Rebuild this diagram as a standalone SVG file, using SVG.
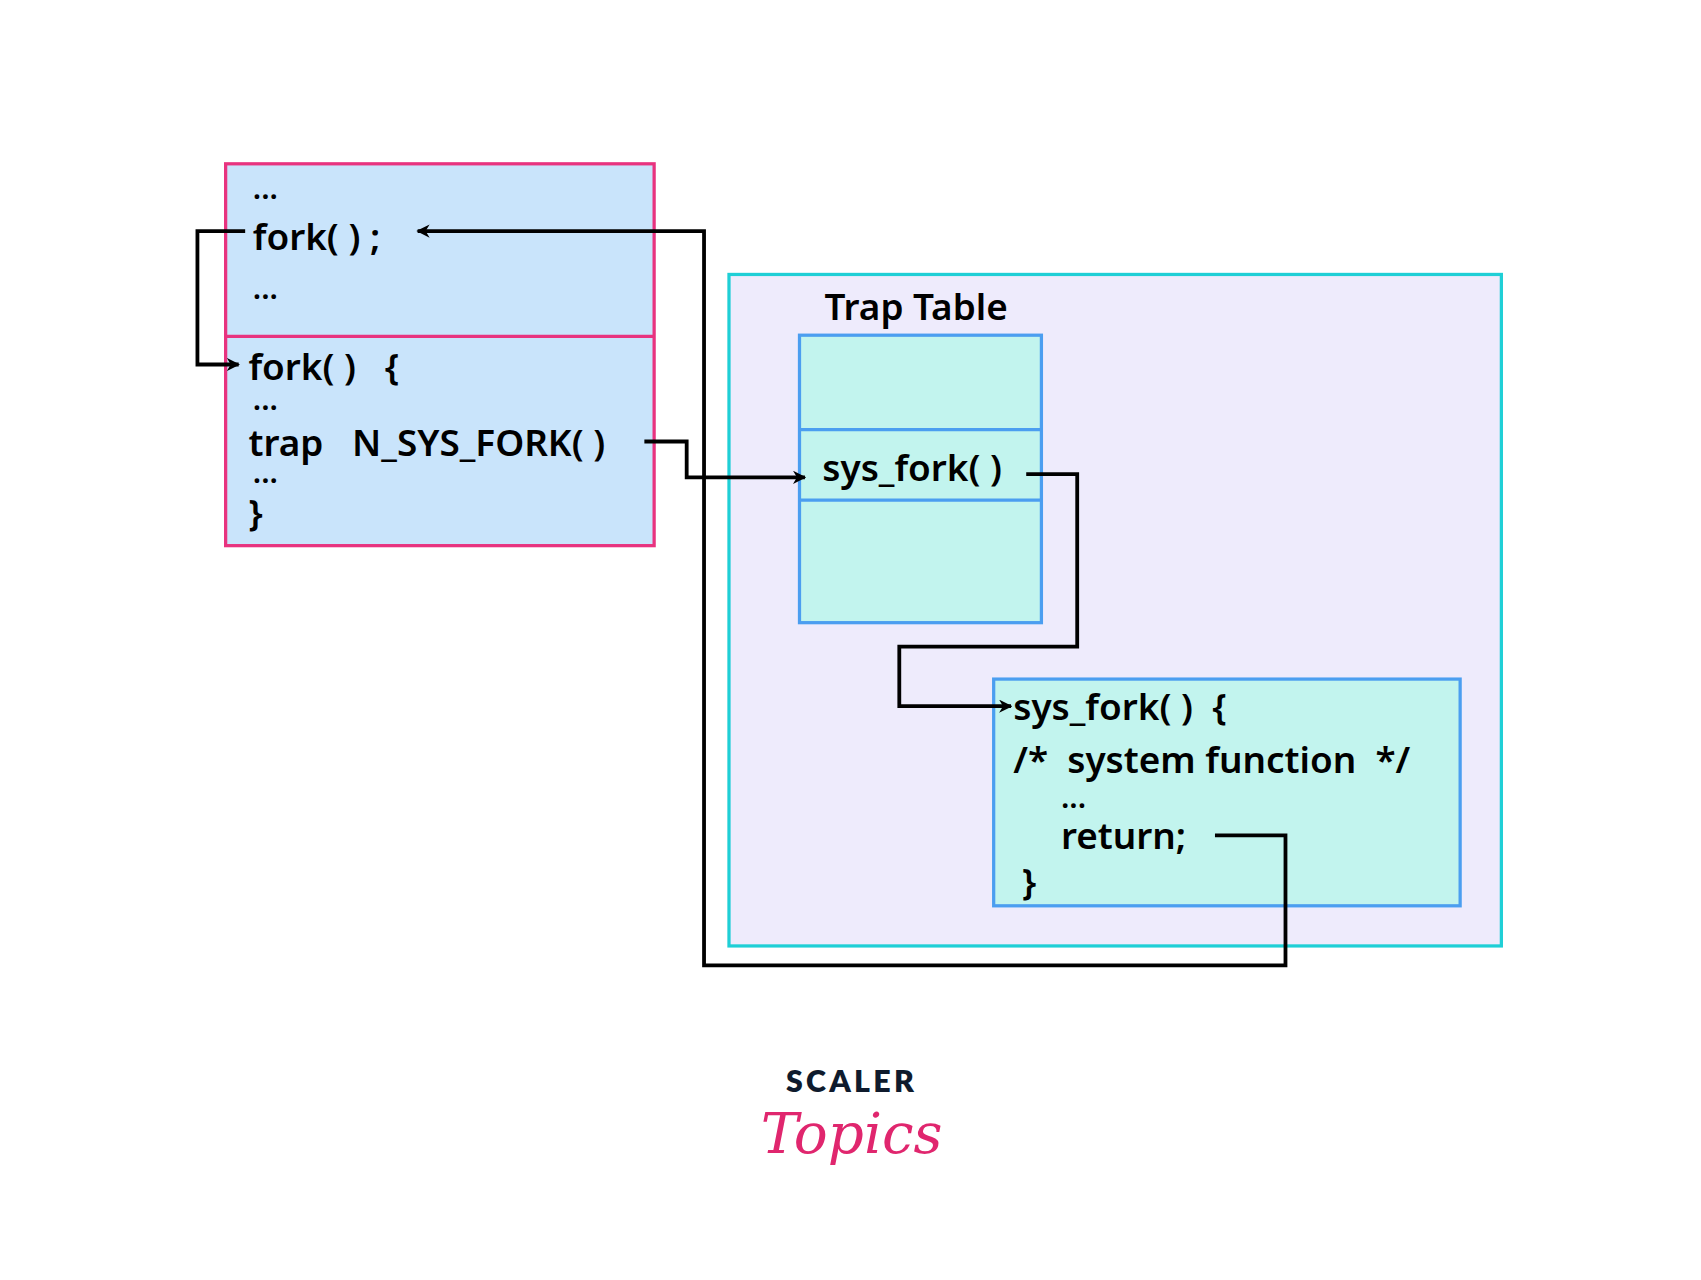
<svg xmlns="http://www.w3.org/2000/svg" width="1701" height="1280" viewBox="0 0 1701 1280">
<style>
.t{font-family:"Noto Sans","Open Sans",sans-serif;font-weight:600;font-size:34px;fill:#000}
.d{font-size:28px}
.c{fill:none;stroke:#000;stroke-width:3.5}
</style>
<defs><marker id="a" viewBox="0 0 10 10" refX="9" refY="5" markerWidth="3.5" markerHeight="3.5" orient="auto"><path d="M0,0L10,5L0,10L3,5z" fill="#000"/></marker></defs>
<rect width="1701" height="1280" fill="#fff"/>
<g transform="scale(1.0848)">
<g id="caller">
<rect x="208" y="151" width="395" height="352" fill="#c9e4fb" stroke="#e8337f" stroke-width="3"/>
<line x1="208" y1="310" x2="603" y2="310" stroke="#e8337f" stroke-width="3"/>
<text class="t d" x="233" y="183">...</text>
<text class="t" x="233" y="230">fork( ) ;</text>
<text class="t d" x="233" y="276">...</text>
<text class="t" x="229" y="350" xml:space="preserve">fork( )   {</text>
<text class="t d" x="233" y="378">...</text>
<text class="t" x="229" y="420" xml:space="preserve">trap   N_SYS_FORK( )</text>
<text class="t d" x="233" y="445">...</text>
<text class="t" x="229" y="485">}</text>
</g>
<g id="kernel">
<rect x="672" y="253" width="712" height="619" fill="#eeebfc" stroke="#1fcfd6" stroke-width="3"/>
<text class="t" x="760" y="295">Trap Table</text>
</g>
<g id="traptable">
<rect x="737" y="309" width="223" height="265" fill="#c2f4ee" stroke="#4b9ef0" stroke-width="3"/>
<line x1="737" y1="396" x2="960" y2="396" stroke="#4b9ef0" stroke-width="3"/>
<line x1="737" y1="461" x2="960" y2="461" stroke="#4b9ef0" stroke-width="3"/>
<text class="t" x="758" y="443">sys_fork( )</text>
</g>
<g id="sysfork">
<rect x="916" y="626" width="430" height="209" fill="#c2f4ee" stroke="#4b9ef0" stroke-width="3"/>
<text class="t" x="934" y="664" xml:space="preserve">sys_fork( )  {</text>
<text class="t" x="934" y="713" xml:space="preserve">/*  system function  */</text>
<text class="t d" x="978" y="745">...</text>
<text class="t" x="978" y="783">return;</text>
<text class="t" x="942" y="825">}</text>
</g>
<g id="connectors">
<polyline class="c" points="226,213 182,213 182,336 220,336" marker-end="url(#a)"/>
<polyline class="c" points="594,407 633,407 633,440 742,440" marker-end="url(#a)"/>
<polyline class="c" points="946,437 993,437 993,596 829,596 829,651 932,651" marker-end="url(#a)"/>
<polyline class="c" points="1120,770 1185,770 1185,890 649,890 649,213 385,213" marker-end="url(#a)"/>
</g>
<g id="logo">
<text x="785" y="1007" text-anchor="middle" font-family="Lato,'Noto Sans',sans-serif" font-weight="800" font-size="28" letter-spacing="3" fill="#0f1b2d">SCALER</text>
<text x="785" y="1063" text-anchor="middle" font-family="'DejaVu Serif',serif" font-style="italic" font-size="52" fill="#e0266e">Topics</text>
</g>
</g>
</svg>
